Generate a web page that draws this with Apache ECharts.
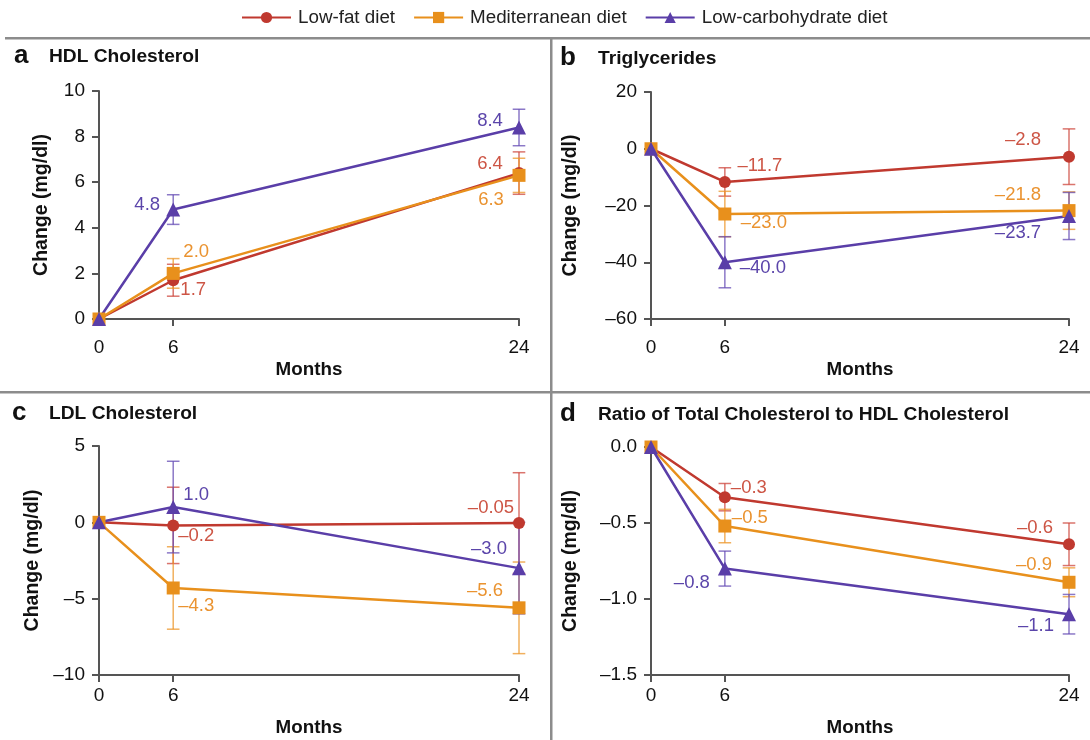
<!DOCTYPE html>
<html>
<head>
<meta charset="utf-8">
<script src="https://cdn.jsdelivr.net/npm/echarts@6/dist/echarts.min.js"></script>
<style>
  html, body { margin: 0; padding: 0; background: #fff; }
  #chart { width: 1090px; height: 740px; }
</style>
</head>
<body>
<div id="chart"></div>
<script>
// months on the x axis
const months = [0, 6, 24];
const diets = ['Low-fat diet', 'Mediterranean diet', 'Low-carbohydrate diet'];

// a - HDL cholesterol
const hdlLowFat = [0, 1.7, 6.4];
const hdlMed = [0, 2.0, 6.3];
const hdlLowCarb = [0, 4.8, 8.4];
const hdlLowFatErr = [0, 0.7, 0.93];
const hdlMedErr = [0, 0.65, 0.75];
const hdlLowCarbErr = [0, 0.65, 0.8];

// b - triglycerides
const tgLowFat = [0, -11.7, -2.8];
const tgMed = [0, -23.0, -21.8];
const tgLowCarb = [0, -40.0, -23.7];
const tgLowFatErr = [0, 5, 9.8];
const tgMedErr = [0, 8, 6.6];
const tgLowCarbErr = [0, 9, 8.3];

// c - LDL cholesterol
const ldlLowFat = [0, -0.2, -0.05];
const ldlMed = [0, -4.3, -5.6];
const ldlLowCarb = [0, 1.0, -3.0];
const ldlLowFatErr = [0, 2.5, 3.3];
const ldlMedErr = [0, 2.7, 3.0];
const ldlLowCarbErr = [0, 3.0, 3.0];

// d - ratio total / HDL
const ratioLowFat = [0, -0.33, -0.64];
const ratioMed = [0, -0.52, -0.89];
const ratioLowCarb = [0, -0.8, -1.1];
const ratioLowFatErr = [0, 0.09, 0.14];
const ratioMedErr = [0, 0.11, 0.095];
const ratioLowCarbErr = [0, 0.115, 0.13];

const colors = ['#c0392f', '#e8901c', '#5a3ea8'];
const labelColors = ['#cd5545', '#ea9330', '#5b45aa'];
const errColors = ['rgba(205,70,60,0.75)', 'rgba(236,150,40,0.75)', 'rgba(100,75,180,0.75)'];
const symbols = ['circle', 'rect', 'triangle'];
const symbolSizes = [12, 13, 14];
const FONT = 'Liberation Sans, Arial, sans-serif';

// the month axis is stretched: 0-6 is short, 6-24 long
const X_END = 5.66;
function axisPos(m) {
  return m <= 6 ? m / 6 : 1 + (m - 6) / 18 * (X_END - 1);
}
const tickPos = months.map(axisPos);

function dash(v) {
  return String(v).replace('-', '\u2013');
}
function fmtValue(v) {
  const d = Math.abs(v) < 0.1 ? 2 : 1;
  return dash(v.toFixed(d));
}

const panels = [
  {
    letter: 'a', title: 'HDL Cholesterol',
    grid: { left: 99, top: 91, width: 420, height: 228 },
    y: { min: 0, max: 10, interval: 2, dec: 0 },
    values: [hdlLowFat, hdlMed, hdlLowCarb],
    errs: [hdlLowFatErr, hdlMedErr, hdlLowCarbErr],
    offsets: [[null, [20, 10], [-29, -9]], [null, [23, -21], [-28, 25]], [null, [-26, -5], [-29, -7]]],
    nameGap: 47, xMargin: 19, titleY: 58, letterX: 22, titleX: 49
  },
  {
    letter: 'b', title: 'Triglycerides',
    grid: { left: 651, top: 92, width: 418, height: 227 },
    y: { min: -60, max: 20, interval: 20, dec: 0 },
    values: [tgLowFat, tgMed, tgLowCarb],
    errs: [tgLowFatErr, tgMedErr, tgLowCarbErr],
    offsets: [[null, [35, -16], [-46, -17]], [null, [39, 9], [-51, -16]], [null, [38, 6], [-51, 17]]],
    nameGap: 70, xMargin: 19, titleY: 60, letterX: 568, titleX: 598
  },
  {
    letter: 'c', title: 'LDL Cholesterol',
    grid: { left: 99, top: 446, width: 420, height: 229 },
    y: { min: -10, max: 5, interval: 5, dec: 0 },
    values: [ldlLowFat, ldlMed, ldlLowCarb],
    errs: [ldlLowFatErr, ldlMedErr, ldlLowCarbErr],
    offsets: [[null, [23, 11], [-28, -15]], [null, [23, 18], [-34, -17]], [null, [23, -12], [-30, -19]]],
    nameGap: 56, xMargin: 11, titleY: 415, letterX: 20, titleX: 49
  },
  {
    letter: 'd', title: 'Ratio of Total Cholesterol to HDL Cholesterol',
    grid: { left: 651, top: 447, width: 418, height: 228 },
    y: { min: -1.5, max: 0, interval: 0.5, dec: 1 },
    values: [ratioLowFat, ratioMed, ratioLowCarb],
    errs: [ratioLowFatErr, ratioMedErr, ratioLowCarbErr],
    offsets: [[null, [24, -9], [-34, -16]], [null, [25, -8], [-35, -17]], [null, [-33, 14], [-33, 12]]],
    nameGap: 70, xMargin: 11, titleY: 416, letterX: 568, titleX: 598
  }
];

function errorBarItem(color) {
  return function (params, api) {
    const top = api.coord([api.value(0), api.value(2)]);
    const bot = api.coord([api.value(0), api.value(1)]);
    const w = 6.3;
    const style = { stroke: color, lineWidth: 1.5 };
    return {
      type: 'group',
      children: [
        { type: 'line', shape: { x1: top[0], y1: top[1], x2: bot[0], y2: bot[1] }, style: style },
        { type: 'line', shape: { x1: top[0] - w, y1: top[1], x2: top[0] + w, y2: top[1] }, style: style },
        { type: 'line', shape: { x1: bot[0] - w, y1: bot[1], x2: bot[0] + w, y2: bot[1] }, style: style }
      ]
    };
  };
}

const grids = [], xAxes = [], yAxes = [], lineSeries = [], errSeries = [], graphics = [];

panels.forEach(function (p, pi) {
  grids.push(Object.assign({ containLabel: false, outerBoundsMode: 'none' }, p.grid));
  xAxes.push({
    type: 'value', gridIndex: pi, min: 0, max: X_END,
    name: 'Months', nameLocation: 'middle', nameGap: pi < 2 ? 41 : 43,
    nameTextStyle: { fontFamily: FONT, fontWeight: 'bold', fontSize: 18.8, color: '#111' },
    axisLine: { show: true, onZero: false, lineStyle: { color: '#555', width: 2 } },
    axisTick: { show: true, length: 7, customValues: tickPos, lineStyle: { color: '#555', width: 2 } },
    axisLabel: {
      customValues: tickPos, margin: p.xMargin, fontFamily: FONT, fontSize: 19, color: '#111',
      formatter: function (v) {
        let best = 0;
        tickPos.forEach(function (t, i) { if (Math.abs(t - v) < Math.abs(tickPos[best] - v)) best = i; });
        return String(months[best]);
      }
    },
    splitLine: { show: false }
  });
  yAxes.push({
    type: 'value', gridIndex: pi, min: p.y.min, max: p.y.max, interval: p.y.interval,
    name: 'Change (mg/dl)', nameLocation: 'middle', nameGap: p.nameGap,
    nameTextStyle: { fontFamily: FONT, fontWeight: 'bold', fontSize: 19.5, color: '#111' },
    axisLine: { show: true, onZero: false, lineStyle: { color: '#555', width: 2 } },
    axisTick: { show: true, length: 7, lineStyle: { color: '#555', width: 2 } },
    axisLabel: {
      margin: 14, fontFamily: FONT, fontSize: 19, color: '#111',
      formatter: function (v) { return dash(v.toFixed(p.y.dec)); }
    },
    splitLine: { show: false }
  });

  p.values.forEach(function (vals, di) {
    const errs = p.errs[di];
    errSeries.push({
      type: 'custom', name: diets[di], xAxisIndex: pi, yAxisIndex: pi,
      renderItem: errorBarItem(errColors[di]), z: 1, silent: true,
      encode: { x: 0, y: [1, 2] },
      data: months.slice(1).map(function (m, k) {
        const i = k + 1;
        return [axisPos(m), vals[i] - errs[i], vals[i] + errs[i]];
      })
    });
    lineSeries.push({
      type: 'line', name: diets[di], xAxisIndex: pi, yAxisIndex: pi, z: 3,
      color: colors[di],
      symbol: symbols[di], symbolSize: symbolSizes[di], showAllSymbol: true,
      lineStyle: { color: colors[di], width: 2.5 },
      itemStyle: { color: colors[di] },
      data: months.map(function (m, i) {
        const off = p.offsets[di][i];
        return {
          value: [axisPos(m), vals[i]],
          label: off ? {
            show: true, position: 'inside', offset: off,
            align: 'center', verticalAlign: 'middle',
            color: labelColors[di], fontFamily: FONT, fontSize: 18.5,
            formatter: function (d) { return fmtValue(d.value[1]); }
          } : { show: false }
        };
      })
    });
  });

  graphics.push({
    type: 'text', left: p.letterX - 8, top: p.titleY - 15,
    style: { text: p.letter, font: 'bold 26px ' + FONT, fill: '#111' }
  });
  graphics.push({
    type: 'text', left: p.titleX, top: p.titleY - 11,
    style: { text: p.title, font: 'bold 19.2px ' + FONT, fill: '#111' }
  });
});

// panel separators
graphics.push({ type: 'rect', shape: { x: 5, y: 37, width: 1085, height: 2.5 }, style: { fill: '#8c8c8c' } });
graphics.push({ type: 'rect', shape: { x: 0, y: 391, width: 1090, height: 2.5 }, style: { fill: '#8c8c8c' } });
graphics.push({ type: 'rect', shape: { x: 550, y: 38, width: 2.5, height: 702 }, style: { fill: '#8c8c8c' } });

const chart = echarts.init(document.getElementById('chart'));
chart.setOption({
  backgroundColor: '#fff',
  animation: false,
  legend: {
    data: diets, top: 3, left: 236,
    itemWidth: 49, itemHeight: 14, itemGap: 18,
    textStyle: { fontFamily: FONT, fontSize: 18.8, color: '#222', padding: [0, 0, 0, 2] }
  },
  grid: grids,
  xAxis: xAxes,
  yAxis: yAxes,
  series: lineSeries.concat(errSeries),
  graphic: graphics
});
</script>
</body>
</html>
